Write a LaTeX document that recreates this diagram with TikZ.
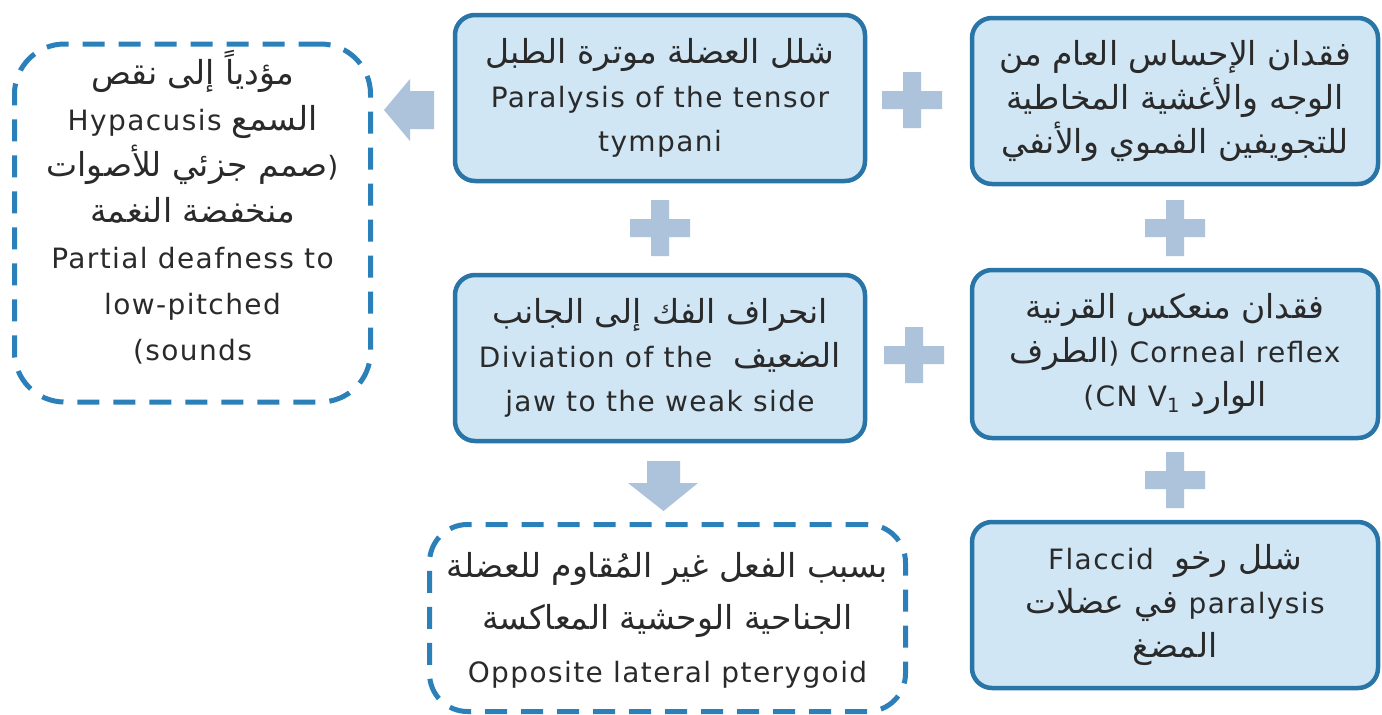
\documentclass[tikz,border=0pt]{standalone}
\usepackage{fontspec}
\setmainfont{DejaVu Sans}[LetterSpace=5]
\newfontfamily\arabicfont[Script=Arabic,Scale=1.18]{DejaVu Sans}
\TeXXeTstate=1
\newcommand\artext[1]{{\arabicfont\beginR #1\endR}}
\usetikzlibrary{calc}

\definecolor{edgeblue}{HTML}{2A75A8}
\definecolor{boxfill}{HTML}{D0E6F5}
\definecolor{plusc}{HTML}{ADC2DB}
\definecolor{dashblue}{HTML}{2B80BA}
\definecolor{ink}{HTML}{2A2A2A}

\tikzset{
  solidbox/.style={draw=edgeblue, line width=4.5pt, fill=boxfill,
    rounded corners=20pt, inner sep=0pt},
  dashbox/.style={draw=dashblue, line width=5pt, dash pattern=on 22pt off 14pt,
    inner sep=0pt},
  txt/.style={text=ink, align=center, inner sep=0pt,
    font=\fontsize{28}{44}\selectfont},
  plussign/.pic={
    \fill[plusc] (-9,-28) -- (9,-28) -- (9,-9) -- (30,-9) -- (30,9) -- (9,9)
      -- (9,28) -- (-9,28) -- (-9,9) -- (-30,9) -- (-30,-9) -- (-9,-9) -- cycle;
  },
}

\begin{document}
\begin{tikzpicture}[x=1pt,y=-1pt]
\useasboundingbox[fill=white] (0,0) rectangle (1382,715);

% solid boxes
\node[solidbox, minimum width=410pt, minimum height=166pt] (tensor) at (660,98) {};
\node[solidbox, minimum width=406pt, minimum height=166pt] (sens)   at (1175,101) {};
\node[solidbox, minimum width=410pt, minimum height=166pt] (jaw)    at (660,358) {};
\node[solidbox, minimum width=406pt, minimum height=168pt] (corneal) at (1175,354) {};
\node[solidbox, minimum width=406pt, minimum height=166pt] (flaccid) at (1175,605) {};

% dashed boxes
\node[dashbox, rounded corners=50pt, minimum width=356pt, minimum height=358pt] (hear) at (192.5,223) {};
\node[dashbox, rounded corners=38pt, minimum width=476pt, minimum height=187pt] (ptery) at (667.5,618) {};

% texts
\node[txt] (tensortxt) at (tensor) {\artext{شلل العضلة موترة الطبل}\\Paralysis of the tensor\\tympani};
\node[txt] (senstxt) at (sens) {\artext{فقدان الإحساس العام من}\\\artext{الوجه والأغشية المخاطية}\\\artext{للتجويفين الفموي والأنفي}};
\node[txt] (jawtxt) at (jaw) {\artext{انحراف الفك إلى الجانب}\\Diviation of the\ \ \artext{الضعيف}\\jaw to the weak side};
\node[txt] (cornealtxt) at (corneal) {\artext{فقدان منعكس القرنية}\\\artext{الطرف}) Corneal reflex\\(CN V\textsubscript{1} \artext{الوارد}};
\node[txt] (flaccidtxt) at (flaccid) {Flaccid\ \ \artext{شلل رخو}\\\artext{في عضلات} paralysis\\\artext{المضغ}};
\node[txt, font=\fontsize{28}{46}\selectfont] (heartxt) at (192.5,207) {\artext{مؤدياً إلى نقص}\\Hypacusis \artext{السمع}\\\artext{صمم جزئي للأصوات})\\\artext{منخفضة النغمة}\\Partial deafness to\\low-pitched\\(sounds};
\node[txt, font=\fontsize{28}{52.5}\selectfont] (pterytxt) at (667.5,620) {\artext{بسبب الفعل غير المُقاوم للعضلة}\\\artext{الجناحية الوحشية المعاكسة}\\Opposite lateral pterygoid};

% plus signs between the boxes
\pic at (912,100) {plussign};
\pic at (660,228) {plussign};
\pic at (1175,228) {plussign};
\pic at (914,355) {plussign};
\pic at (1175,480) {plussign};

% block arrows
\fill[plusc] (434,91) -- (410,91) -- (410,79) -- (384,110) -- (410,141)
  -- (410,129) -- (434,129) -- cycle;
\fill[plusc] (647,461) -- (680,461) -- (680,483) -- (698,483) -- (663.5,511)
  -- (628,483) -- (647,483) -- cycle;
\end{tikzpicture}
\end{document}
